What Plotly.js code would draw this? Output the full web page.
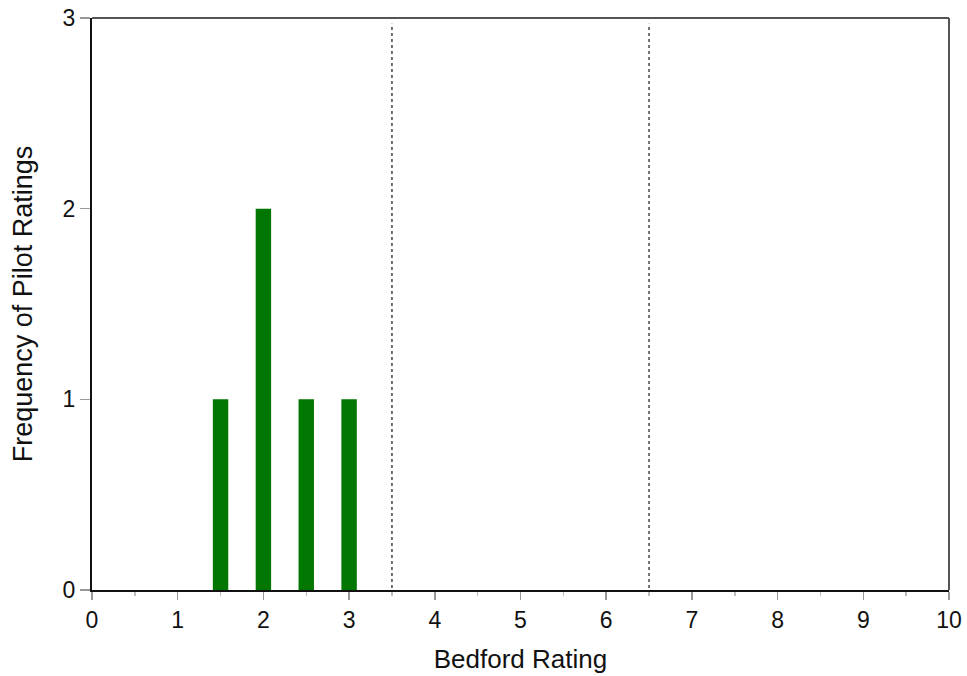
<!DOCTYPE html>
<html><head><meta charset="utf-8">
<script src="https://cdn.plot.ly/plotly-3.0.1.min.js"></script>
<style>html,body{margin:0;padding:0;background:#fff}#c{width:967px;height:676px}</style>
</head><body><div id="c"></div>
<script>
const ratings = [1.5, 2, 2.5, 3];
const frequency = [1, 2, 1, 1];
const dividers = [3.5, 6.5];
const xTicks = [0,1,2,3,4,5,6,7,8,9,10];
const yTicks = [0,1,2,3];

const FONT = 'Liberation Sans, Arial, sans-serif';
const shapes = dividers.map(d => ({type:'line', xref:'x', yref:'y', x0:d, x1:d, y0:0.01, y1:2.97,
  line:{color:'#444', width:1.5, dash:'dot'}}));
shapes.push({type:'line', xref:'paper', yref:'paper', x0:0, x1:1, y0:1, y1:1, line:{color:'#555', width:2}});
shapes.push({type:'line', xref:'paper', yref:'paper', x0:1, x1:1, y0:0, y1:1, line:{color:'#555', width:2}});

Plotly.newPlot('c', [{
  type:'bar', x:ratings, y:frequency, width:0.18,
  marker:{color:'#007700', line:{width:0}}
}], {
  width:967, height:676,
  margin:{l:92, r:18, t:18, b:86},
  paper_bgcolor:'#fff', plot_bgcolor:'#fff',
  font:{family:FONT, size:23, color:'#111'},
  showlegend:false,
  xaxis:{range:[0,10], tickmode:'array', tickvals:xTicks, ticktext:xTicks.map(String), showgrid:false, zeroline:false,
    tickfont:{family:FONT, size:23, color:'#111'},
    showline:true, linecolor:'#111', linewidth:2, ticks:'outside', ticklen:8, tickcolor:'#999', tickwidth:1.5,
    minor:{dtick:0.5, ticks:'outside', ticklen:4, tickcolor:'#bbb', showgrid:false},
    title:{text:'Bedford Rating', font:{family:FONT, size:26}, standoff:18}},
  yaxis:{range:[0,3], tickmode:'array', tickvals:yTicks, ticktext:yTicks.map(String), showgrid:false, zeroline:false,
    tickfont:{family:FONT, size:23, color:'#111'},
    showline:true, linecolor:'#111', linewidth:2, ticks:'outside', ticklen:10, tickcolor:'#999', tickwidth:1.5,
    title:{text:'Frequency of Pilot Ratings', font:{family:FONT, size:27}, standoff:22}},
  shapes:shapes
}, {staticPlot:true});
</script></body></html>
